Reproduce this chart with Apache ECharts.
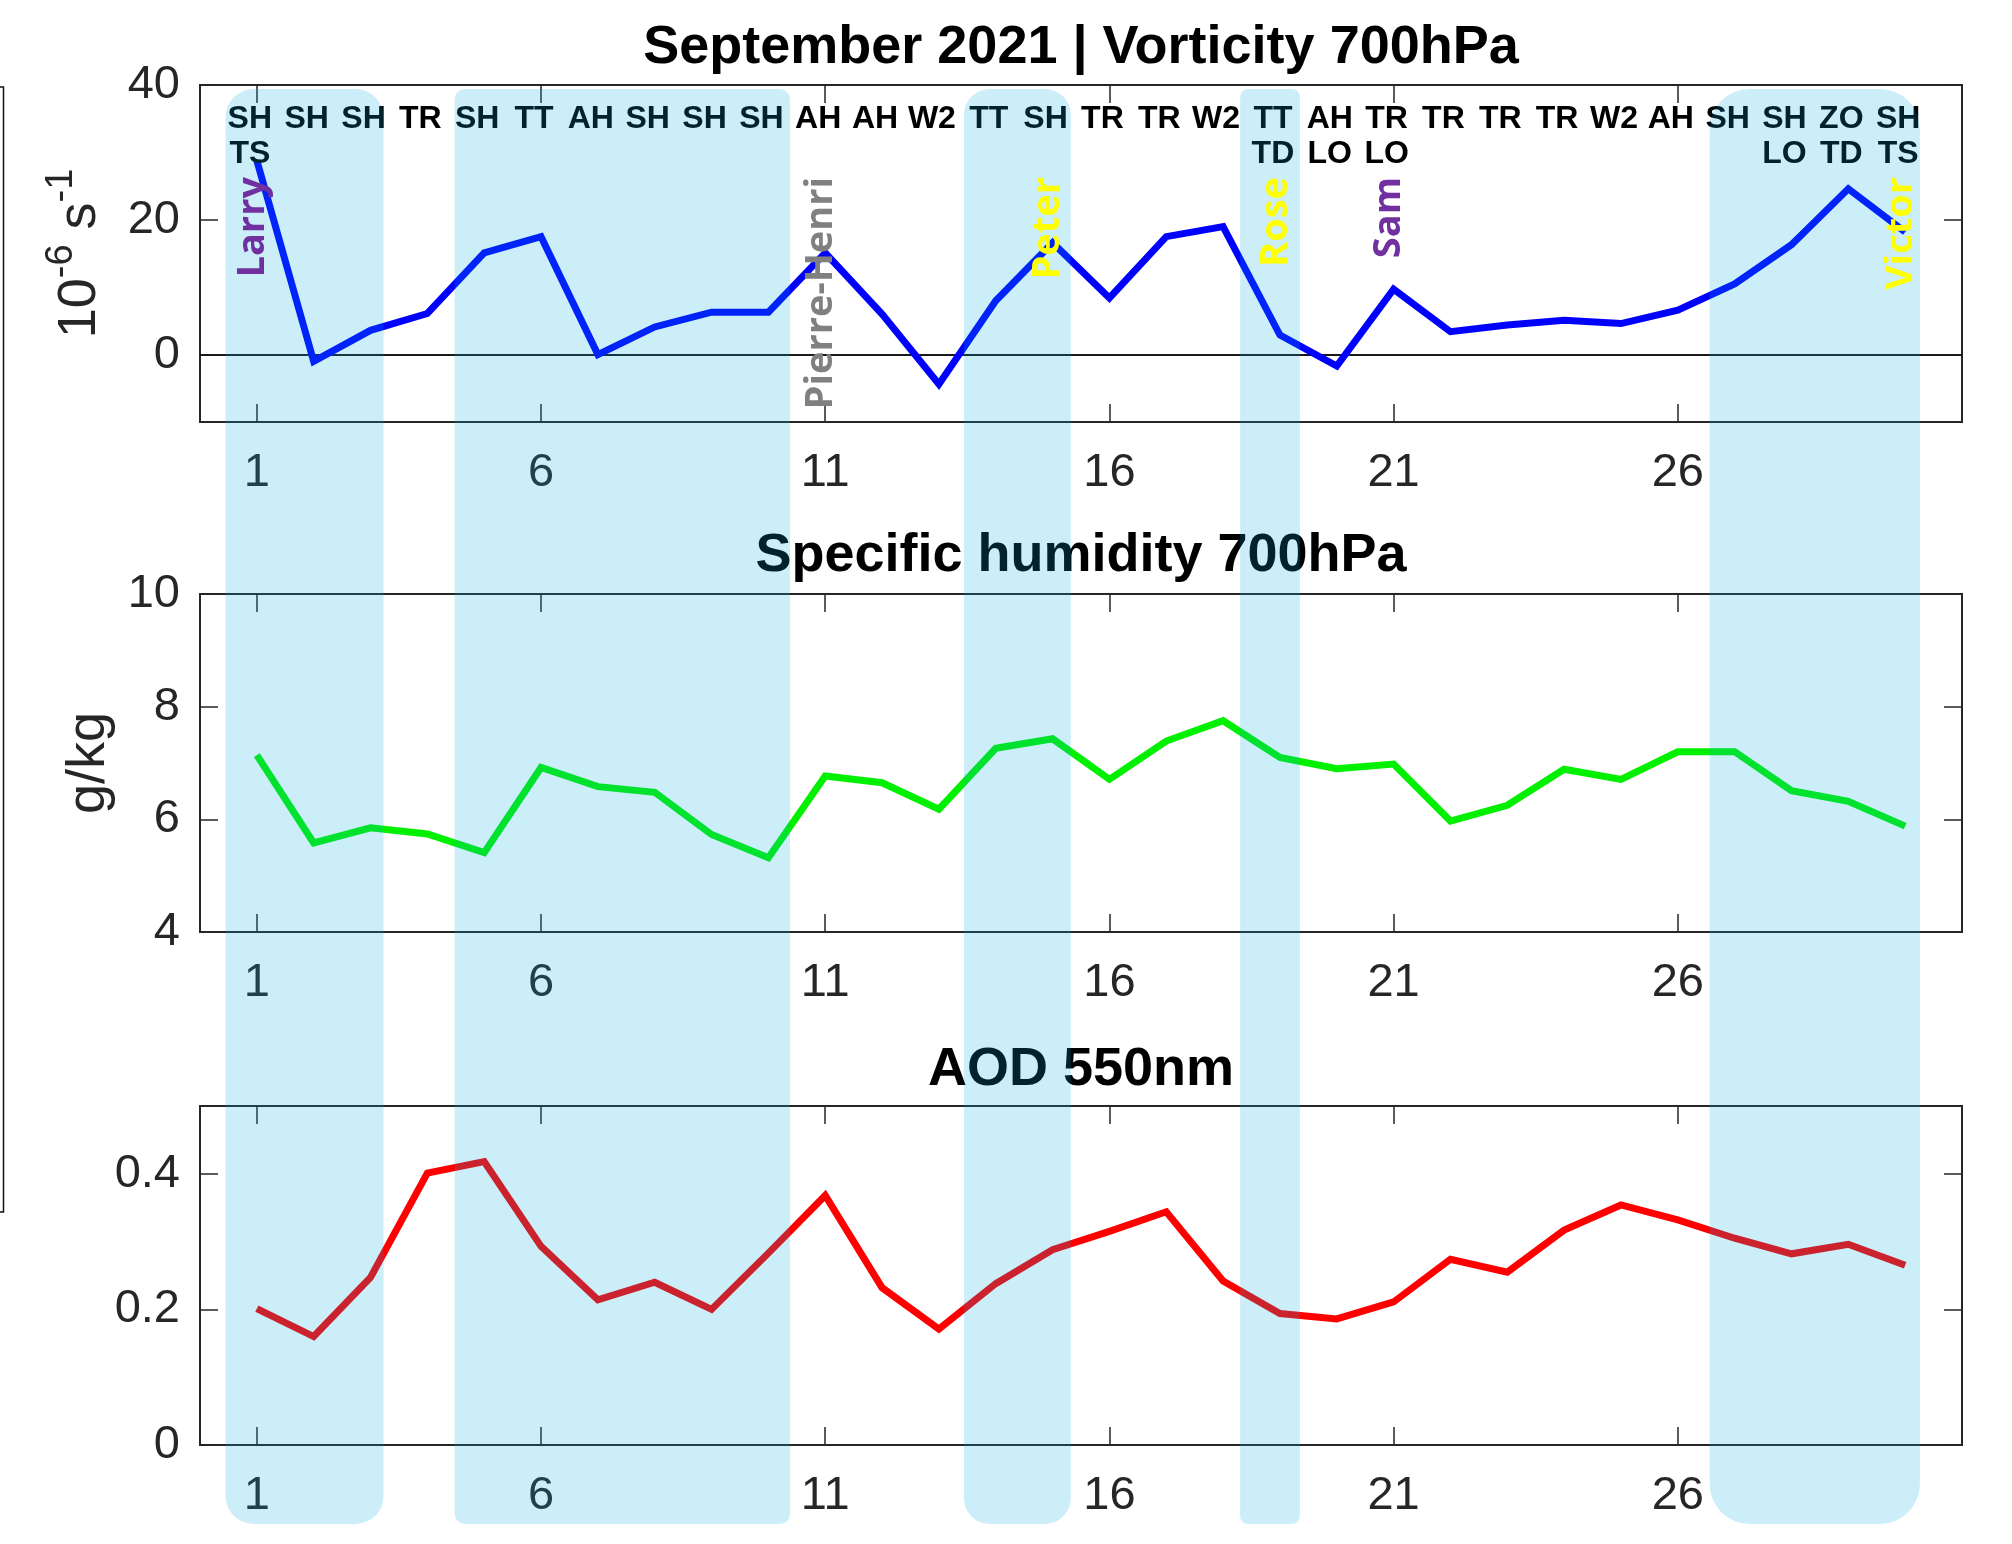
<!DOCTYPE html>
<html><head><meta charset="utf-8">
<script src="https://cdn.jsdelivr.net/npm/echarts@6/dist/echarts.min.js"></script>
<style>html,body{margin:0;padding:0;background:#fff;}#c{width:2012px;height:1544px;}</style>
</head><body><div id="c"></div>
<script>
// ---------- data ----------
const days = [1,2,3,4,5,6,7,8,9,10,11,12,13,14,15,16,17,18,19,20,21,22,23,24,25,26,27,28,29,30];
const vorticity = [28.8,-1.0,3.6,6.1,15.1,17.5,0.0,4.1,6.3,6.3,15.1,6.0,-4.4,8.0,16.6,8.4,17.5,19.0,2.9,-1.7,9.7,3.4,4.4,5.1,4.6,6.6,10.5,16.3,24.6,18.2];
const humidity = [7.14,5.58,5.85,5.74,5.41,6.92,6.58,6.48,5.73,5.32,6.77,6.65,6.18,7.26,7.43,6.71,7.39,7.75,7.10,6.90,6.98,5.97,6.25,6.89,6.71,7.20,7.20,6.51,6.32,5.88];
const aod = [0.201,0.160,0.247,0.401,0.418,0.293,0.214,0.240,0.200,0.283,0.368,0.232,0.171,0.238,0.288,0.315,0.344,0.242,0.194,0.186,0.211,0.274,0.255,0.317,0.354,0.332,0.305,0.282,0.296,0.265];

const xTicks = [1,6,11,16,21,26];
const vortTicks = [0,20,40];
const humTicks = [4,6,8,10];
const aodTicks = [0,0.2,0.4];

const weatherTypes = ['SH','SH','SH','TR','SH','TT','AH','SH','SH','SH','AH','AH','W2','TT','SH','TR','TR','W2','TT','AH','TR','TR','TR','TR','W2','AH','SH','SH','ZO','SH'];
const weatherTypes2 = ['TS','','','','','','','','','','','','','','','','','','TD','LO','LO','','','','','','','LO','TD','TS'];

const stormDays = [1,11,15,19,21,30];
const stormNames = ['Larry','Pierre-Henri','Peter','Rose','Sam','Victor'];
const stormColors = ['#7030a0','#808080','#ffff00','#ffff00','#7030a0','#ffff00'];

const shadeStart = [0.45,4.48,13.44,18.30,26.56];
const shadeEnd   = [3.23,10.38,15.32,19.35,30.26];

const titles = ['September 2021 | Vorticity 700hPa','Specific humidity 700hPa','AOD 550nm'];

// ---------- chart ----------
const FONT = '"Liberation Sans", Arial, Helvetica, sans-serif';
const AX = '#262626';
const chart = echarts.init(document.getElementById('c'), null, {renderer:'canvas'});

const gridDefs = [{top:85,height:337},{top:594,height:338},{top:1106,height:339}];
const grids = gridDefs.map(g => ({left:200,width:1762,top:g.top,height:g.height,show:true,borderColor:AX,borderWidth:2}));

function xAx(gi, pos, showLabel){
  return {type:'value', gridIndex:gi, position:pos, min:0, max:31, interval:5,
    splitLine:{show:false},
    axisLine:{show:true,onZero:false,lineStyle:{color:AX,width:2}},
    axisTick:{show:true,inside:true,length:18,customValues:xTicks,lineStyle:{color:AX,width:1.5}},
    axisLabel:{show:showLabel,customValues:xTicks,margin:28,fontSize:47,color:AX,fontFamily:FONT}};
}
function yAx(gi, pos, showLabel, min, max, interval, ticks, extra){
  return Object.assign({type:'value', gridIndex:gi, position:pos, min:min, max:max, interval:interval,
    splitLine:{show:false},
    axisLine:{show:true,onZero:false,lineStyle:{color:AX,width:2}},
    axisTick:{show:true,inside:true,length:18,customValues:ticks,lineStyle:{color:AX,width:1.5}},
    axisLabel:{show:showLabel,customValues:ticks,margin:20,fontSize:47,color:AX,fontFamily:FONT,
      formatter: v => (Math.abs(v) < 1e-9 ? '0' : (interval < 1 ? v.toFixed(1) : String(v)))}}, extra||{});
}

const nameStyle = {fontSize:54,color:AX,fontFamily:FONT,lineHeight:74,
  rich:{sup:{fontSize:38,lineHeight:38,verticalAlign:'top',color:AX,fontFamily:FONT}}};

const option = {
  animation:false,
  backgroundColor:'#ffffff',
  textStyle:{fontFamily:FONT},
  grid: grids,
  xAxis: [xAx(0,'bottom',true), xAx(0,'top',false), xAx(1,'bottom',true), xAx(1,'top',false), xAx(2,'bottom',true), xAx(2,'top',false)],
  yAxis: [
    yAx(0,'left',true,-10,40,10,vortTicks,{name:'10{sup|-6} s{sup|-1}',nameLocation:'middle',nameRotate:90,nameGap:70,nameTextStyle:nameStyle}),
    yAx(0,'right',false,-10,40,10,vortTicks),
    yAx(1,'left',true,4,10,2,humTicks,{name:'g/kg',nameLocation:'middle',nameRotate:90,nameGap:84,nameTextStyle:{fontSize:54,color:AX,fontFamily:FONT}}),
    yAx(1,'right',false,4,10,2,humTicks),
    yAx(2,'left',true,0,0.5,0.1,aodTicks),
    yAx(2,'right',false,0,0.5,0.1,aodTicks)
  ],
  series: [
    {type:'line', name:'Vorticity', xAxisIndex:0, yAxisIndex:0, data: days.map((d,i)=>[d,vorticity[i]]),
      symbol:'none', lineStyle:{color:'#0000ff',width:7,join:'miter'}, z:3,
      markLine:{silent:true,symbol:'none',label:{show:false},lineStyle:{color:'#1a1a1a',width:2,type:'solid'},data:[{yAxis:0}],z:2}},
    {type:'line', name:'Humidity', xAxisIndex:2, yAxisIndex:2, data: days.map((d,i)=>[d,humidity[i]]),
      symbol:'none', lineStyle:{color:'#00f000',width:7,join:'miter'}, z:3},
    {type:'line', name:'AOD', xAxisIndex:4, yAxisIndex:4, data: days.map((d,i)=>[d,aod[i]]),
      symbol:'none', lineStyle:{color:'#ff0000',width:7,join:'miter'}, z:3}
  ]
};
chart.setOption(option);

// ---------- annotations positioned through the axis scales ----------
const px = v => chart.convertToPixel({xAxisIndex:0}, v);
const graphics = [];
const titleY = [48, 556, 1070];
const titleX = (px(0) + px(31)) / 2;
titles.forEach((t,i) => graphics.push({type:'text', x:titleX, y:titleY[i], z:50,
  style:{text:t, fill:'#000', font:'bold 54px ' + FONT, align:'center', verticalAlign:'middle'}}));

days.forEach((d,i) => {
  graphics.push({type:'text', x:px(d)-7, y:119, z:50,
    style:{text:weatherTypes[i], fill:'#000', font:'bold 32px ' + FONT, align:'center', verticalAlign:'middle'}});
  if (weatherTypes2[i]) graphics.push({type:'text', x:px(d)-7, y:154, z:50,
    style:{text:weatherTypes2[i], fill:'#000', font:'bold 32px ' + FONT, align:'center', verticalAlign:'middle'}});
});

const radii = [28,10,26,8,40];
shadeStart.forEach((s,i) => {
  const x0 = px(s), x1 = px(shadeEnd[i]);
  graphics.push({type:'rect', z:100, silent:true,
    shape:{x:x0, y:89, width:x1-x0, height:1435, r:radii[i]},
    style:{fill:'rgba(0,172,225,0.204)'}});
});

stormDays.forEach((d,i) => {
  graphics.push({type:'text', x:px(d)-4, y:177, rotation:Math.PI/2, z:200,
    style:{text:stormNames[i], fill:stormColors[i], font:'bold 38px "Open Sans", "DejaVu Sans", sans-serif', align:'right', verticalAlign:'middle'}});
});

graphics.push({type:'polyline', z:50, shape:{points:[[0,87],[3.5,87],[3.5,1212],[0,1212]]},
  style:{stroke:'#111', lineWidth:1.5, fill:null}});

chart.setOption({graphic: graphics});
</script></body></html>
